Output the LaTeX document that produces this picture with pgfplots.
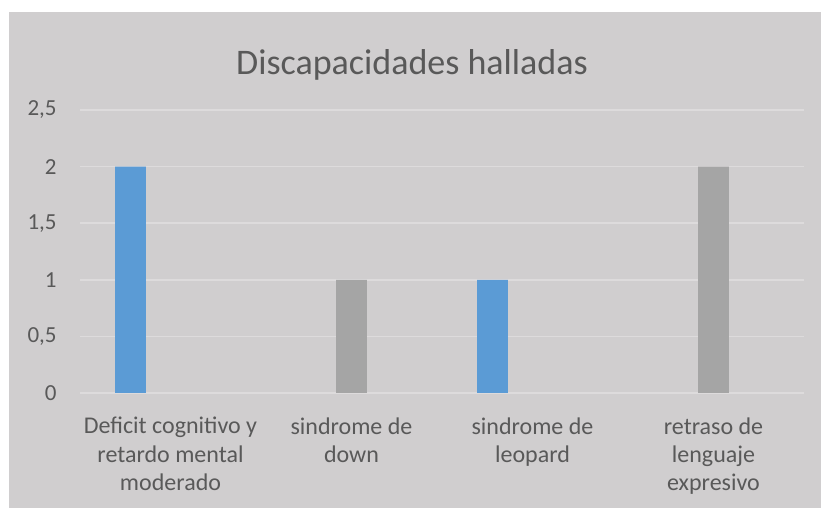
\documentclass[border=0pt]{standalone}
\usepackage{pgfplots}
\pgfplotsset{compat=1.18}
\usepackage{fontspec}
\setmainfont{Carlito}
\definecolor{bg}{RGB}{208,206,207}
\definecolor{gridc}{RGB}{221,219,220}
\definecolor{txt}{RGB}{89,89,89}
\definecolor{blueb}{RGB}{91,155,213}
\definecolor{greyb}{RGB}{165,165,165}
\begin{document}
\begin{tikzpicture}[x=0.5pt,y=0.5pt]
\fill[white] (0,0) rectangle (821,508);
\fill[bg] (9,0) rectangle (821,496);
\begin{axis}[at={(40pt,57.5pt)}, anchor=south west,
  width=362pt, height=141.5pt, scale only axis,
  xmin=-0.5, xmax=3.5, ymin=0, ymax=2.5,
  ytick={0,0.5,1,1.5,2,2.5},
  xtick={0,1,2,3},
  xticklabels={{Deficit cognitivo y\\retardo mental\\moderado},{sindrome de\\down},{sindrome de\\leopard},{retraso de\\lenguaje\\expresivo}},
  axis line style={draw=none}, major tick length=0pt, tick style={draw=none},
  ymajorgrids, grid style={gridc, line width=0.75pt},
  tick label style={txt, font=\fontsize{11.5}{14.15}\selectfont},
  yticklabel style={anchor=east, inner sep=0pt, xshift=-11.5pt},
  xticklabel style={anchor=north, inner sep=0pt, yshift=-12pt, align=center, font=\fontsize{12}{14.15}\selectfont},
  /pgf/number format/.cd, use comma, assume math mode=true,
]
\addplot[ybar, bar width=0.171, bar shift=-0.221, fill=blueb, draw=none] coordinates {(0,2) (2,1)};
\addplot[ybar, bar width=0.171, bar shift=0, fill=greyb, draw=none] coordinates {(1,1) (3,2)};
\end{axis}
\node[anchor=base, txt, font=\fontsize{18}{21}\selectfont, inner sep=0pt] at (412,433) {Discapacidades halladas};
\end{tikzpicture}
\end{document}
